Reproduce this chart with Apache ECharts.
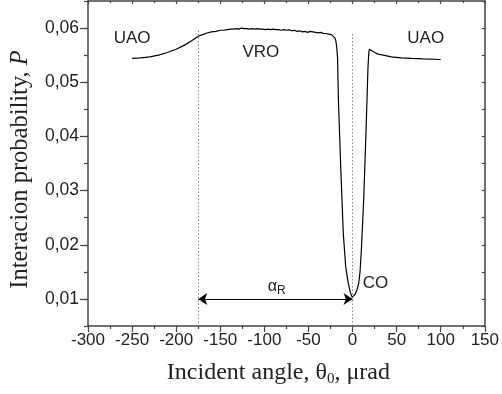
<!DOCTYPE html>
<html><head><meta charset="utf-8">
<script src="https://cdn.jsdelivr.net/npm/echarts@6/dist/echarts.min.js"></script>
<style>html,body{margin:0;padding:0;background:#fff}#c{width:502px;height:394px}</style>
</head><body><div id="c"></div>
<script>
const angles = [-250,-240,-230,-220,-210,-200,-190,-182,-175,-170,-165,-160,-155,-150,-146,-142,-138,-135,-132,-129,-126,-123,-120,-117,-114,-111,-108,-105,-102,-99,-96,-93,-90,-87,-84,-81,-78,-75,-72,-69,-66,-63,-60,-57,-54,-51,-48,-45,-42,-39,-36,-33,-30,-27,-24,-22,-20,-19,-18,-17,-16,-13.4,-10.5,-7.8,-5,-2.5,-0.5,1,3,5,7,8.5,10,12.6,15.2,17.5,18.5,19,20,22,25,29,35,44,55,67,80,100];
const probability = [0.0544,0.0545,0.0547,0.0550,0.0555,0.0561,0.0569,0.0577,0.0585,0.0588,0.0591,0.0593,0.0594,0.0596,0.0596,0.0597,0.0598,0.0598,0.0599,0.0598,0.0600,0.0599,0.0599,0.0598,0.0599,0.0598,0.0599,0.0598,0.0598,0.0597,0.0598,0.0597,0.0598,0.0597,0.0597,0.0596,0.0597,0.0596,0.0597,0.0595,0.0596,0.0594,0.0595,0.0593,0.0594,0.0592,0.0594,0.0593,0.0592,0.0591,0.0592,0.0590,0.0590,0.0589,0.0588,0.0586,0.0582,0.0577,0.0566,0.0545,0.0466,0.0343,0.0221,0.0160,0.0130,0.0112,0.0103,0.0104,0.0109,0.0117,0.0129,0.0150,0.0190,0.0282,0.0405,0.0527,0.0555,0.0561,0.0562,0.0558,0.0555,0.0552,0.0550,0.0547,0.0545,0.0544,0.0543,0.0542];
const yMajorTicks = [0.01, 0.02, 0.03, 0.04, 0.05, 0.06];
const boundaryAngles = [-175, 0];
const boundaryTops = [0.0596, 0.0593];
const arrowLevel = 0.01;
const regionNames = ['UAO', 'VRO', 'UAO', 'CO'];

const axisColor = '#444';
const sans = '"Liberation Sans", Arial, sans-serif';
const serif = '"Liberation Serif", "Times New Roman", serif';
const yMin = 0.005, yMax = 0.065;

const chart = echarts.init(document.getElementById('c'), null, {renderer: 'canvas'});
const baseY = {
  type: 'value', min: yMin, max: yMax, interval: 0.005,
  splitLine: {show: false},
  axisLine: {show: true, onZero: false, lineStyle: {color: axisColor, width: 1.5}}
};
const option = {
  animation: false,
  backgroundColor: '#fff',
  grid: {left: 86, right: 14, top: 1, bottom: 68, containLabel: false},
  xAxis: [{
    type: 'value', min: -300, max: 150, interval: 50, position: 'bottom',
    splitLine: {show: false},
    axisLine: {show: true, onZero: false, lineStyle: {color: axisColor, width: 1.5}},
    axisTick: {show: true, inside: false, length: 6, lineStyle: {color: axisColor, width: 1.2}},
    minorTick: {show: true, splitNumber: 2, length: 3, lineStyle: {color: axisColor, width: 1.2}},
    axisLabel: {color: '#222', fontSize: 17, fontFamily: sans, margin: 6},
    name: '{t|Incident angle, θ}{s|0}{t|, μrad}',
    nameLocation: 'middle', nameGap: 35,
    nameTextStyle: {
      padding: [0, 16, 0, 0],
      rich: {
        t: {fontFamily: serif, fontSize: 24, color: '#222', lineHeight: 26, verticalAlign: 'top'},
        s: {fontFamily: serif, fontSize: 15, color: '#222', lineHeight: 26, verticalAlign: 'bottom', padding: [10, 0, 0, 0]}
      }
    }
  }, {
    type: 'value', min: -300, max: 150, interval: 50, position: 'top',
    splitLine: {show: false},
    axisLine: {show: true, onZero: false, lineStyle: {color: axisColor, width: 1.5}},
    axisTick: {show: true, inside: true, length: 3, lineStyle: {color: axisColor, width: 1.2}},
    minorTick: {show: true, splitNumber: 2, length: 2, lineStyle: {color: axisColor, width: 1.2}},
    axisLabel: {show: false}
  }],
  yAxis: [Object.assign({}, baseY, {
    position: 'left',
    axisTick: {show: true, inside: false, length: 4, lineStyle: {color: axisColor, width: 1.2}},
    axisLabel: {
      color: '#222', fontSize: 17.5, fontFamily: sans, margin: 9,
      customValues: yMajorTicks,
      formatter: v => v.toFixed(2).replace('.', ',')
    },
    name: '{t|Interacion probability, }{i|P}',
    nameLocation: 'middle', nameGap: 55,
    nameTextStyle: {
      padding: [0, 12, 0, 0],
      rich: {
        t: {fontFamily: serif, fontSize: 24.5, color: '#222'},
        i: {fontFamily: serif, fontSize: 24.5, color: '#222', fontStyle: 'italic'}
      }
    }
  }), Object.assign({}, baseY, {
    position: 'right',
    axisTick: {show: true, inside: true, length: 3, lineStyle: {color: axisColor, width: 1.2}},
    axisLabel: {show: false}
  }), Object.assign({}, baseY, {
    position: 'left',
    axisLine: {show: false, onZero: false},
    axisTick: {show: true, inside: false, length: 8, customValues: yMajorTicks, lineStyle: {color: axisColor, width: 1.2}},
    axisLabel: {show: false}
  })],
  series: [{
    type: 'line',
    xAxisIndex: 0, yAxisIndex: 0,
    data: angles.map((a, i) => [a, probability[i]]),
    showSymbol: false,
    lineStyle: {color: '#000', width: 1.2},
    z: 5,
    markLine: {
      silent: true,
      symbol: ['arrow', 'arrow'],
      symbolSize: 9,
      label: {show: false},
      lineStyle: {color: '#000', type: 'solid', width: 1.2},
      data: [[{coord: [boundaryAngles[0], arrowLevel]}, {coord: [boundaryAngles[1], arrowLevel]}]]
    },
    markPoint: {
      silent: true,
      symbol: 'circle', symbolSize: 0,
      label: {show: true, position: 'inside', color: '#222', fontFamily: sans, fontSize: 17, formatter: '{b}'},
      data: [
        {name: regionNames[0], coord: [-250, 0.0581]},
        {name: regionNames[1], coord: [-104, 0.0556]},
        {name: regionNames[2], coord: [83, 0.0581]},
        {name: regionNames[3], coord: [26, 0.0128]},
        {name: 'alpha', coord: [-86, 0.0121], label: {
          formatter: '{a|α}{s|R}',
          rich: {
            a: {fontFamily: sans, fontSize: 16, color: '#222', lineHeight: 18, verticalAlign: 'top'},
            s: {fontFamily: sans, fontSize: 12, color: '#222', lineHeight: 18, verticalAlign: 'bottom', padding: [8, 0, 0, 0]}
          }
        }}
      ]
    }
  }, {
    type: 'line',
    xAxisIndex: 0, yAxisIndex: 0,
    data: [],
    markLine: {
      silent: true,
      symbol: 'none',
      label: {show: false},
      lineStyle: {color: '#888', type: [1.5, 2], width: 1},
      data: boundaryAngles.map((a, i) => [{coord: [a, yMin]}, {coord: [a, boundaryTops[i]]}])
    }
  }]
};
chart.setOption(option);
</script></body></html>
